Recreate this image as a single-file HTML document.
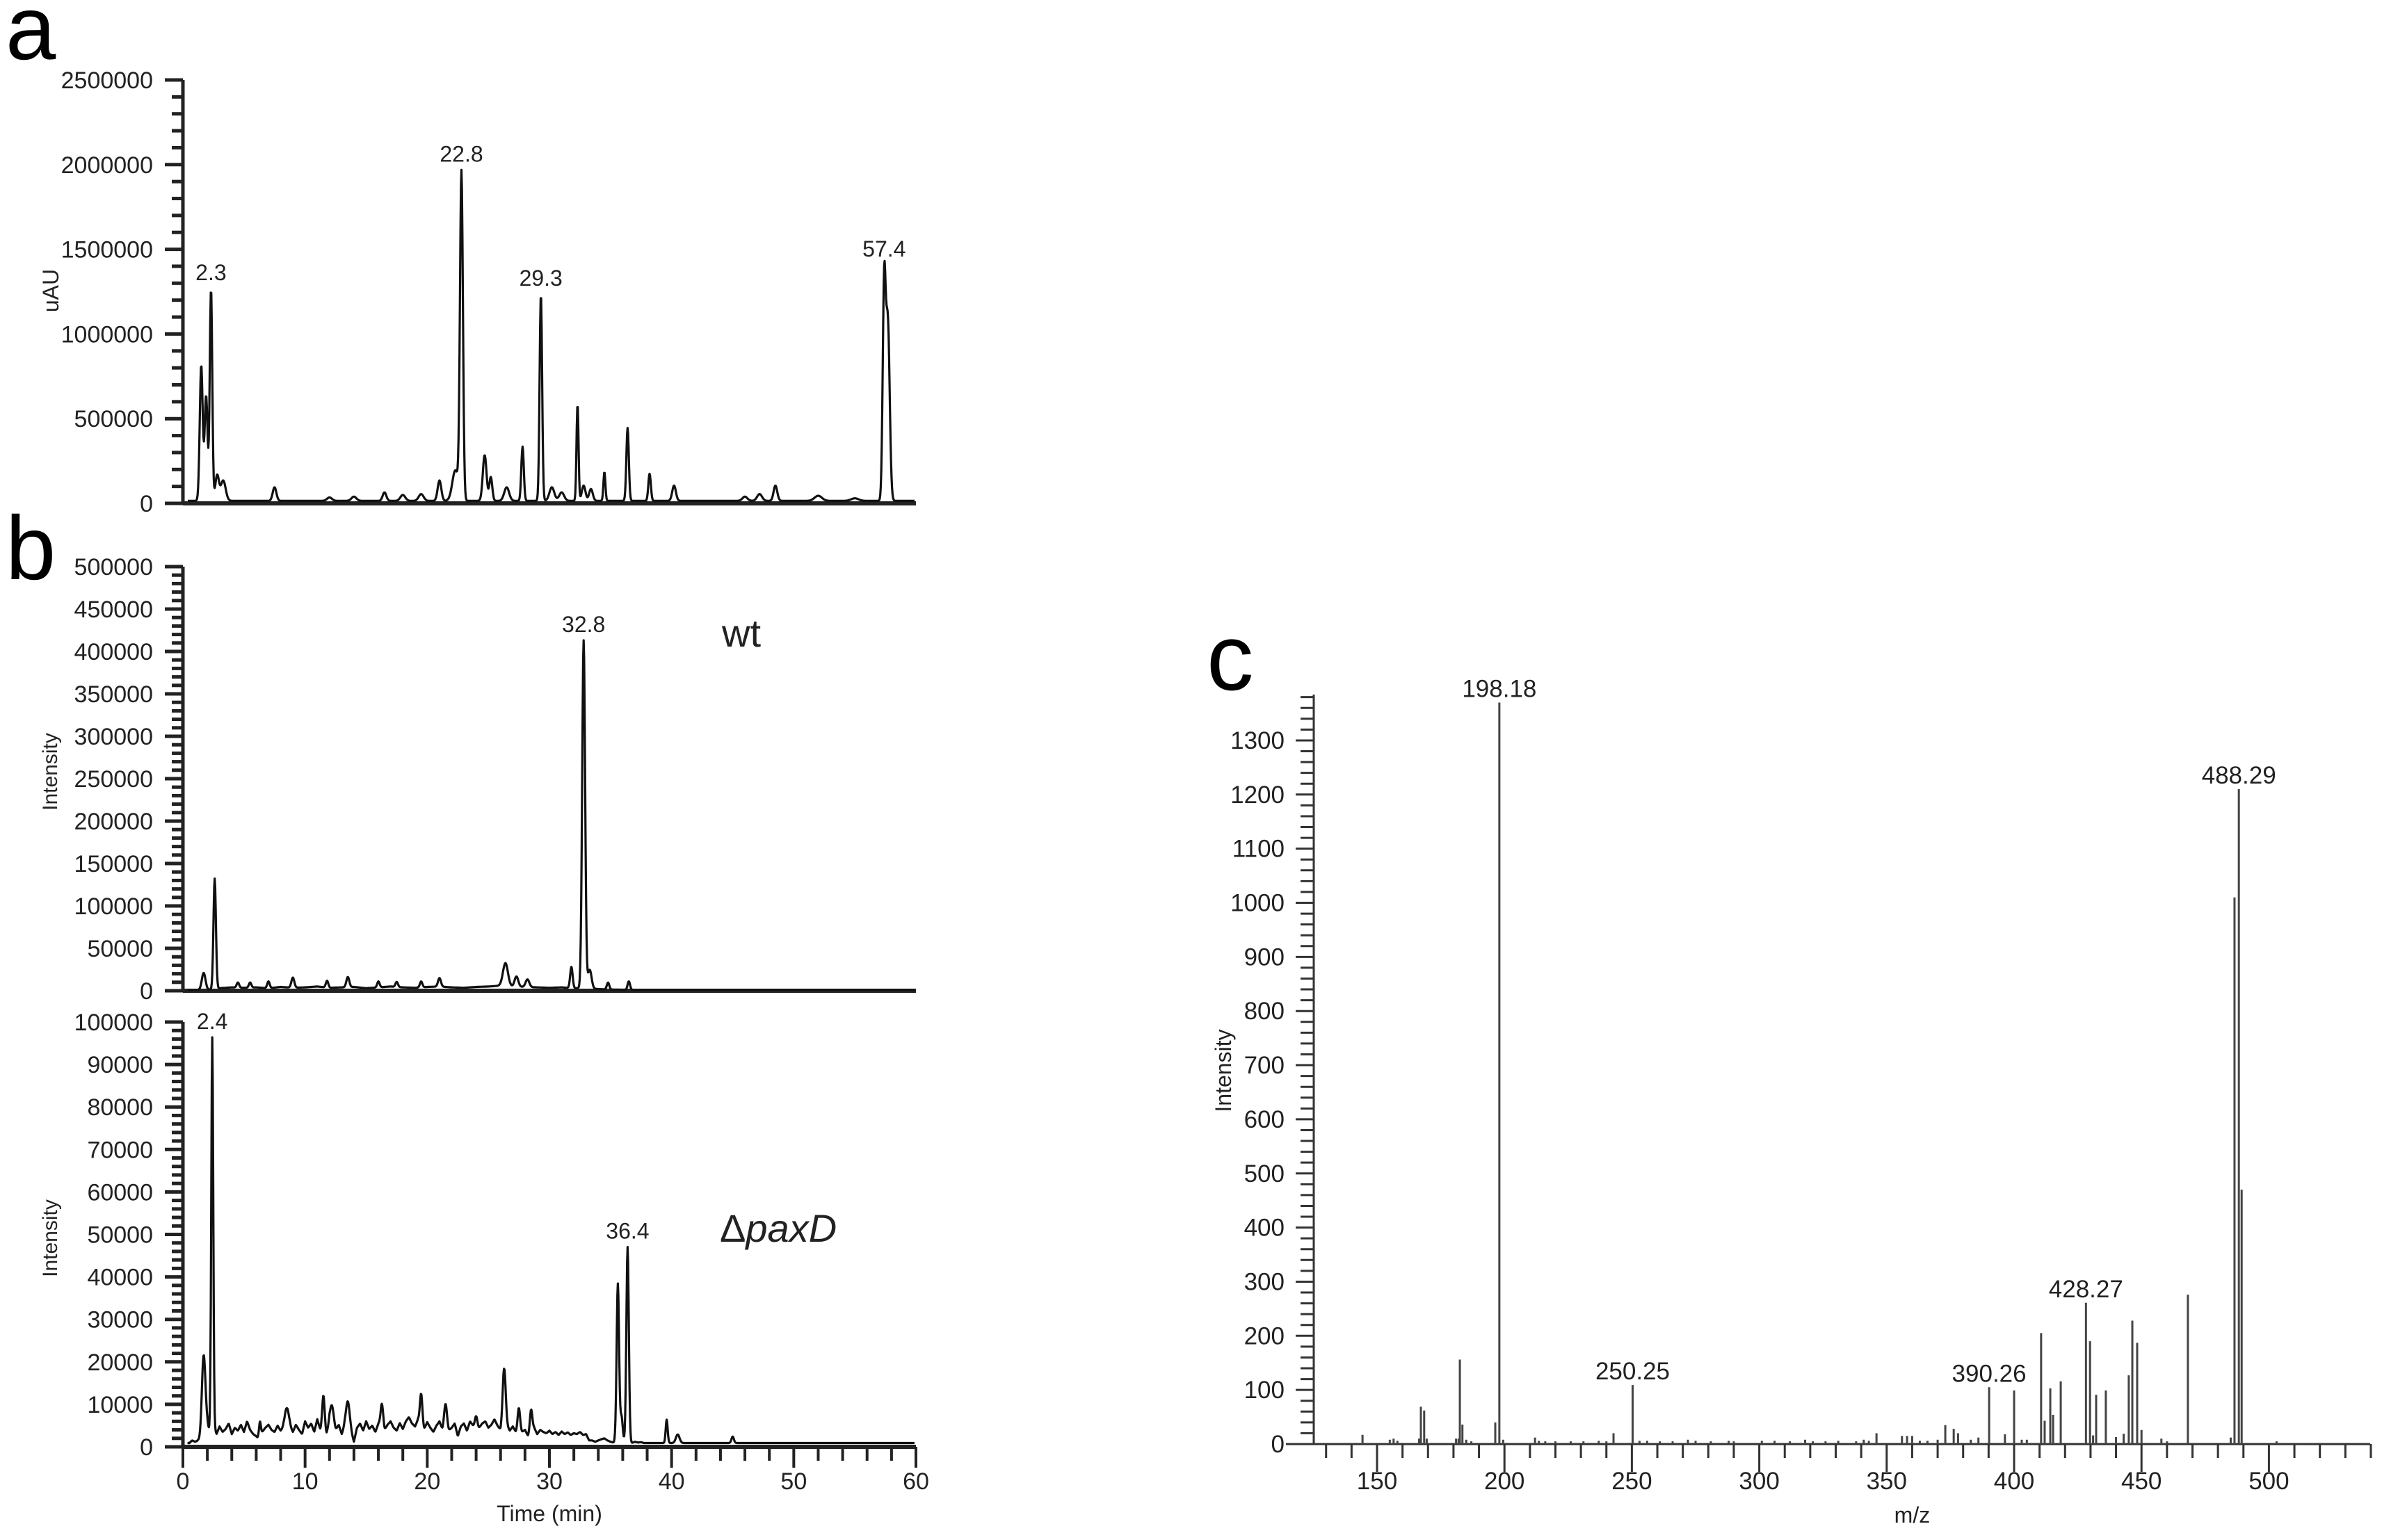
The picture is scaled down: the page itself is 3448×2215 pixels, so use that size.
<!DOCTYPE html>
<html><head><meta charset="utf-8">
<style>
html,body{margin:0;padding:0;background:#fff;}
svg{display:block;}
text{font-family:"Liberation Sans",sans-serif;fill:#222;}
</style></head>
<body>
<svg id="fig" width="3448" height="2215" viewBox="0 0 3448 2215" xmlns="http://www.w3.org/2000/svg">
<text x="8" y="85" font-size="130" style="fill:#000">a</text>
<text x="8" y="833" font-size="130" style="fill:#000">b</text>
<text x="1735" y="992" font-size="135" style="fill:#000">c</text>
<g id="ga"></g>
<g id="gb1"></g>
<g id="gb2"></g>
<g id="gc"></g>
</svg>
<script>
// ---- Panel a data (time min, height uAU, width min)
const aPeakTimes = [1.5,1.9,2.3,2.8,3.3,7.5,12,14,16.5,18,19.5,21,22.3,22.8,24.7,25.2,26.5,27.8,29.3,30.2,31,32.3,32.8,33.4,34.5,36.4,38.2,40.2,46,47.2,48.5,52,55,57.4,57.7];
const aPeakHeights = [800000,620000,1250000,150000,120000,80000,20000,25000,50000,35000,40000,120000,180000,1930000,270000,140000,80000,320000,1220000,80000,50000,570000,90000,70000,170000,430000,160000,90000,25000,40000,90000,30000,15000,1250000,1050000];
const aPeakWidths = [0.12,0.12,0.1,0.15,0.2,0.15,0.2,0.2,0.15,0.2,0.2,0.15,0.25,0.12,0.15,0.12,0.2,0.1,0.1,0.2,0.2,0.08,0.15,0.15,0.08,0.1,0.1,0.15,0.2,0.2,0.15,0.3,0.3,0.12,0.15];
const aTickLabels = ["0","500000","1000000","1500000","2000000","2500000"];
const aLabels = [["2.3",2.3],["22.8",22.8],["29.3",29.3],["57.4",57.4]];

// ---- Panel b wt
const wtPeakTimes = [1.7,2.6,4.5,5.5,7,9,11.8,13.5,16,17.5,19.5,21,26.4,27.3,28.2,31.8,32.8,33.3,34.8,36.5];
const wtPeakHeights = [20000,130000,6000,6000,8000,12000,8000,12000,7000,6000,7000,10000,27000,12000,9000,25000,410000,22000,8000,10000];
const wtPeakWidths = [0.15,0.1,0.1,0.1,0.1,0.12,0.1,0.12,0.1,0.1,0.1,0.12,0.2,0.15,0.15,0.1,0.12,0.15,0.1,0.1];
const wtBaseline = [1000,1000,1000,3000,4000,3500,4000,3000,4500,3500,4000,5000,3500,4000,4500,3000,4000,5000,4000,3500,4500,5000,4000,3500,4500,5000,6000,5000,4500,4000,3500,4000,3000,3000,2000,1500,1200,1000,1000,1000,1000];
const wtTickLabels = ["0","50000","100000","150000","200000","250000","300000","350000","400000","450000","500000"];

// ---- Panel b paxD
const pxPeakTimes = [1.7,2.4,6.3,8.5,11.5,12.2,13.5,16.3,19.5,21.5,24,26.3,27.5,28.5,35.6,35.9,36.4,39.6,40.5,45];
const pxPeakHeights = [20000,92000,4000,6000,7000,5000,6500,4000,7500,5000,3000,12500,5000,5000,37000,6000,46000,5500,2000,1500];
const pxPeakWidths = [0.15,0.08,0.08,0.15,0.1,0.15,0.15,0.1,0.1,0.12,0.1,0.12,0.1,0.1,0.1,0.1,0.1,0.08,0.15,0.1];
// baseline samples every 0.25 min from 0 to 40 min
const pxBaseline = [1000,1500,800,1500,1200,1500,1000,1800,
 4500,3500,5000,3000,4800,3500,4200,5500,3000,4500,3800,5200,3500,6000,4000,3000,2500,1500,3500,4500,5200,4000,3500,5000,
 3800,4500,3000,4800,3500,5200,4000,3000,6000,4500,5500,3500,6500,4000,5200,3000,5800,4500,3800,5200,3000,5000,4200,3600,
 1200,4500,5500,3800,6000,4200,5000,3500,5500,6500,4000,5200,6000,4500,3800,5600,4200,6000,7000,5500,4800,6500,5000,4200,
 5800,4500,3500,5000,6000,4000,5200,3800,4500,5500,2500,4800,5500,3800,6000,5000,4200,4500,5500,6000,4500,5200,6500,5000,
 4000,6200,5000,3800,4800,3500,4200,3500,4000,2500,3800,4500,3000,4000,3500,3200,3800,3000,3500,2800,3600,3000,3400,2800,
 3200,3000,3500,2800,3000,1500,1500,1200,1500,1800,2000,1500,1200,1000,1500,1200,1000,1100,1000,900,1200,1000,1100,900];
const pxTickLabels = ["0","10000","20000","30000","40000","50000","60000","70000","80000","90000","100000"];
const timeTickLabels = ["0","10","20","30","40","50","60"];

// ---- Panel c spectrum (m/z, intensity)
const msMz = [144.3,155,156.5,158,166.5,167.2,168.5,169.5,181,182,182.5,183.5,185,187,196.4,198.0,199.5,212,213.5,216,220,226,231,237,240,242.8,250.3,253,256,261,266,272,275,281,288,290,301,306,312,318,321,326,331,338,341,343,346,356,358,360,363,366,370,373,376.3,378,383,386,390.2,396.4,400.0,403,405,410.6,412,414.2,415.3,418.3,428.2,429.8,431,432.2,436,440,443,445,446.4,448.3,450,457.8,460,468.2,485,486.5,488.2,489.3,503];
const msIntensity = [17,8,10,6,10,69,62,10,10,10,156,36,8,5,40,1370,8,12,6,5,5,5,5,6,5,20,109,6,6,5,5,8,6,5,6,5,6,6,5,8,5,5,6,5,8,6,20,15,15,15,6,6,8,35,28,20,8,12,105,18,99,8,8,205,43,103,54,116,261,190,16,91,99,13,19,127,228,187,26,10,5,276,12,1010,1210,470,5];
const msLabels = [["198.18",198.0],["250.25",250.3],["390.26",390.2],["428.27",428.2],["488.29",488.2]];
const msYTickLabels = ["0","100","200","300","400","500","600","700","800","900","1000","1100","1200","1300"];
const msXTickLabels = ["150","200","250","300","350","400","450","500"];

const NS = "http://www.w3.org/2000/svg";
function mk(tag, attrs, parent){const e=document.createElementNS(NS,tag);for(const k in attrs)e.setAttribute(k,attrs[k]);parent.appendChild(e);return e;}

const X0=263, X1=1317;
function tx(t){return X0+(X1-X0)*t/60;}

function trace(t, times, hs, ws, base, step){
  let v=0;
  if(base){const i=t/step;const i0=Math.min(Math.floor(i),base.length-1);const i1=Math.min(i0+1,base.length-1);const f=i-Math.floor(i);v=base[i0]*(1-f)+base[i1]*f; if(t>step*(base.length-1)) v=base[base.length-1];}
  for(let k=0;k<times.length;k++){const d=(t-times[k])/ws[k];v+=hs[k]*Math.exp(-0.5*d*d);}
  return v;
}

function chrom(g, yTop, yBot, vmax, tickLabels, labelStep, minorStep, times, hs, ws, base, step, name){
  const ty=v=>yBot-(yBot-yTop)*v/vmax;
  const ax=mk("line",{x1:X0,y1:yTop,x2:X0,y2:yBot+2,stroke:"#222","stroke-width":5},g);
  
  
  for(let v=0; v<=vmax+1e-6; v+=minorStep){
    const major=Math.abs(v/labelStep-Math.round(v/labelStep))<1e-6;
    const tk=mk("line",{x1:X0-(major?26:16),y1:ty(v),x2:X0,y2:ty(v),stroke:"#222","stroke-width":5},g);
    
    
  }
  tickLabels.forEach((lb,i)=>{
    const t=mk("text",{x:220,y:ty(i*labelStep)+12,"font-size":34,"text-anchor":"end"},g);
    t.textContent=lb;
    
    
  });
  const bx=mk("line",{x1:X0,y1:yBot,x2:X1,y2:yBot,stroke:"#222","stroke-width":6},g);
  
  
  let d="";
  for(let t=0.4;t<=59.9;t+=0.04){
    let v=trace(t,times,hs,ws,base,step);
    d+=(d?"L":"M")+tx(t).toFixed(1)+","+ty(v).toFixed(1);
  }
  const p=mk("path",{d:d,fill:"none",stroke:"#111","stroke-width":3.2,"stroke-linejoin":"round"},g);
  
  
  return ty;
}

// Panel a
const ga=document.getElementById("ga");
const tyA=chrom(ga,115,724,2500000,aTickLabels,500000,100000,aPeakTimes,aPeakHeights,aPeakWidths,[15000,15000],100,"panel-a");
aLabels.forEach(([lb,t])=>{
  let v=trace(t,aPeakTimes,aPeakHeights,aPeakWidths,[15000,15000],100);
  const e=mk("text",{x:tx(t),y:tyA(v)-12,"font-size":32,"text-anchor":"middle"},ga);
  e.textContent=lb;
  
  
});
const ya=mk("text",{x:0,y:0,"font-size":32,"text-anchor":"middle",transform:"translate(84,418) rotate(-90)"},ga);
ya.textContent="uAU";



// Panel b wt
const gb1=document.getElementById("gb1");
const tyW=chrom(gb1,815,1425,500000,wtTickLabels,50000,10000,wtPeakTimes,wtPeakHeights,wtPeakWidths,wtBaseline,1,"panel-b-wt");
{
  const t=32.8, v=trace(t,wtPeakTimes,wtPeakHeights,wtPeakWidths,wtBaseline,1);
  const e=mk("text",{x:tx(t),y:tyW(v)-12,"font-size":32,"text-anchor":"middle"},gb1);
  e.textContent="32.8";
  
  
  const w=mk("text",{x:1038,y:930,"font-size":56},gb1);
  w.textContent="wt";
  
  
  const yt=mk("text",{x:0,y:0,"font-size":30,"text-anchor":"middle",transform:"translate(82,1110) rotate(-90)"},gb1);
  yt.textContent="Intensity";
  
  
}

// Panel b paxD
const gb2=document.getElementById("gb2");
const tyP=chrom(gb2,1470,2081,100000,pxTickLabels,10000,2000,pxPeakTimes,pxPeakHeights,pxPeakWidths,pxBaseline,0.25,"panel-b-paxd");
[["2.4",2.4],["36.4",36.4]].forEach(([lb,t])=>{
  const v=trace(t,pxPeakTimes,pxPeakHeights,pxPeakWidths,pxBaseline,0.25);
  const e=mk("text",{x:tx(t),y:tyP(v)-12,"font-size":32,"text-anchor":"middle"},gb2);
  e.textContent=lb;
  
  
});
{
  const w=mk("text",{x:1035,y:1786,"font-size":56},gb2);
  w.innerHTML='\u0394<tspan font-style="italic">paxD</tspan>';
  
  
  const yt=mk("text",{x:0,y:0,"font-size":30,"text-anchor":"middle",transform:"translate(82,1781) rotate(-90)"},gb2);
  yt.textContent="Intensity";
  
  
  for(let t=0;t<=60;t+=2){
    const major=t%10===0;
    const tk=mk("line",{x1:tx(t),y1:2081,x2:tx(t),y2:2081+(major?30:20),stroke:"#222","stroke-width":4},gb2);
    
    
  }
  timeTickLabels.forEach((lb,i)=>{
    const e=mk("text",{x:tx(i*10),y:2142,"font-size":34,"text-anchor":"middle"},gb2);
    e.textContent=lb;
    
    
  });
  const xt=mk("text",{x:tx(30),y:2188,"font-size":32,"text-anchor":"middle"},gb2);
  xt.textContent="Time (min)";
  
  
}

// Panel c
const gc=document.getElementById("gc");
const CX0=1889, CY0=2077, MZ0=150, MZPX=3.664, IPX=0.7785;
const mx=m=>1980+(m-MZ0)*MZPX;
const iy=v=>CY0-v*IPX;
{
  const ax=mk("line",{x1:CX0,y1:999,x2:CX0,y2:CY0,stroke:"#333","stroke-width":3},gc);
  
  
  const bx=mk("line",{x1:CX0-40,y1:CY0,x2:3408,y2:CY0,stroke:"#333","stroke-width":3},gc);
  
  
  for(let v=0;v<=1380;v+=20){
    const major=v%100===0;
    const tk=mk("line",{x1:CX0-(major?26:19),y1:iy(v),x2:CX0,y2:iy(v),stroke:"#333","stroke-width":3},gc);
    
    
  }
  msYTickLabels.forEach((lb,i)=>{
    const e=mk("text",{x:1847,y:iy(i*100)+12,"font-size":35,"text-anchor":"end"},gc);
    e.textContent=lb;
    
    
  });
  for(let m=130;m<=540;m+=10){
    const major=m%50===0;
    const tk=mk("line",{x1:mx(m),y1:CY0,x2:mx(m),y2:CY0+(major?40:20),stroke:"#333","stroke-width":3},gc);
    
    
  }
  msXTickLabels.forEach((lb,i)=>{
    const e=mk("text",{x:mx(150+50*i),y:2142,"font-size":35,"text-anchor":"middle"},gc);
    e.textContent=lb;
    
    
  });
  msMz.forEach((m,i)=>{
    const b=mk("line",{x1:mx(m),y1:CY0,x2:mx(m),y2:iy(msIntensity[i]),stroke:"#444","stroke-width":3},gc);
    
    
  });
  msLabels.forEach(([lb,m])=>{
    const i=msMz.indexOf(m);
    const e=mk("text",{x:mx(m),y:iy(msIntensity[i])-8,"font-size":35,"text-anchor":"middle"},gc);
    e.textContent=lb;
    
    
  });
  const yt=mk("text",{x:0,y:0,"font-size":32,"text-anchor":"middle",transform:"translate(1770,1540) rotate(-90)"},gc);
  yt.textContent="Intensity";
  
  
  const xt=mk("text",{x:mx(360),y:2190,"font-size":32,"text-anchor":"middle"},gc);
  xt.textContent="m/z";
  
  
}
</script>
</body></html>
